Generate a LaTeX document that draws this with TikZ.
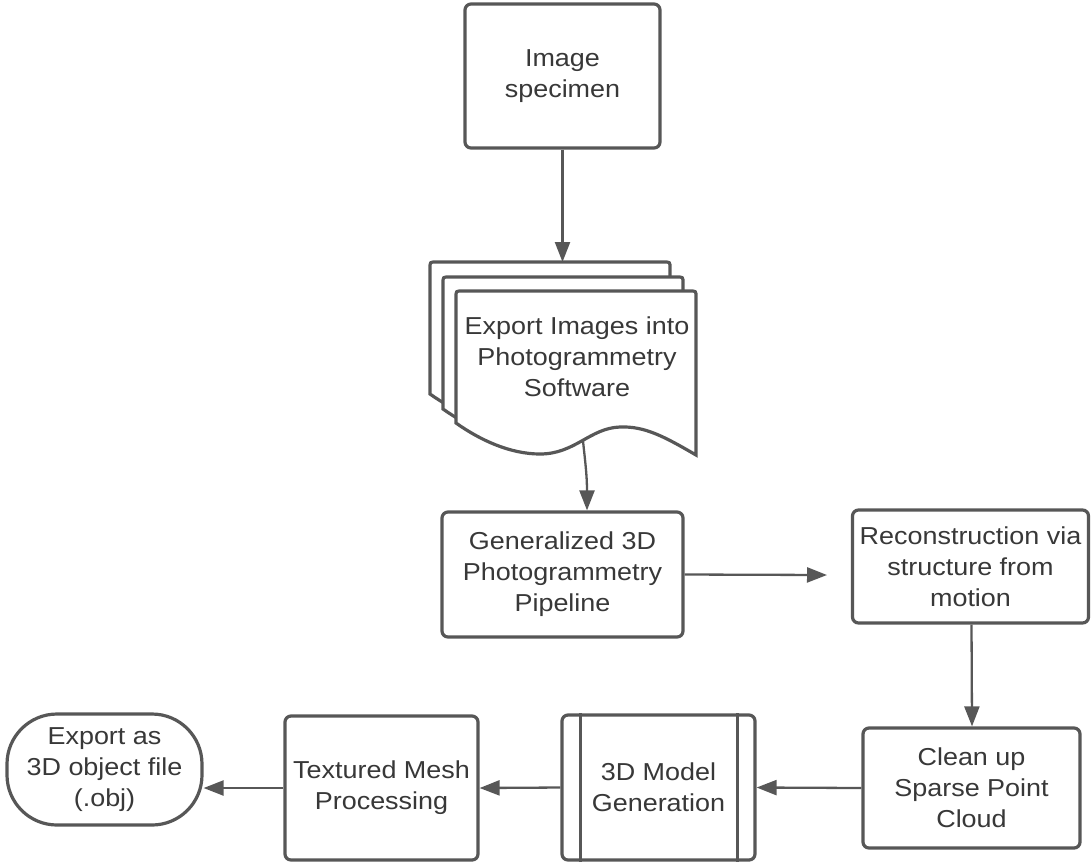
\documentclass[tikz,border=0pt]{standalone}
\usepackage{fontspec}
\setmainfont{Liberation Sans}[FakeStretch=1.1]
\usetikzlibrary{arrows.meta}
\definecolor{edge}{HTML}{575757}
\definecolor{ink}{HTML}{383838}
\tikzset{
  box/.style={draw=edge, line width=3.2pt, rounded corners=6pt, fill=white,
    text=ink, align=center, inner sep=0pt,
    font=\fontsize{24.5}{31}\selectfont},
  page/.style={draw=edge, line width=3.2pt, fill=white},
  conn/.style={draw=edge, line width=2.3pt, -{Triangle[length=20pt,width=15pt]}},
  label/.style={text=ink, align=center, font=\fontsize{24.5}{31}\selectfont}
}
\begin{document}
\begin{tikzpicture}[x=1pt,y=-1pt]
\useasboundingbox (0,0) rectangle (1091,863);
% boxes
\node[box, minimum width=195pt, minimum height=144pt] (spec) at (562.5,76) {Image\\specimen};
\node[box, minimum width=241pt, minimum height=125pt] (gen) at (562.5,574.5) {Generalized 3D\\Photogrammetry\\Pipeline};
\node[box, minimum width=236pt, minimum height=113pt] (recon) at (970.5,566.5) {Reconstruction via\\structure from\\motion};
\node[box, minimum width=217pt, minimum height=120pt] (clean) at (971.5,788) {Clean up\\Sparse Point\\Cloud};
\node[box, minimum width=193pt, minimum height=145pt] (model) at (658.5,787.5) {3D Model\\Generation};
\draw[edge, line width=3.2pt] ([xshift=20pt]model.north west) -- ([xshift=20pt]model.south west);
\draw[edge, line width=3.2pt] ([xshift=-19pt]model.north east) -- ([xshift=-19pt]model.south east);
\node[box, minimum width=193pt, minimum height=144pt] (tex) at (381.5,788) {Textured Mesh\\Processing};
\node[box, rounded corners=50pt, minimum width=195pt, minimum height=111pt] (export) at (104.5,769.5) {Export as\\3D object file\\(.obj)};
% multi-document
\foreach \dx/\dy in {-26/-29,-13/-14,0/0}{
  \path[page, shift={(\dx,\dy)}] (456,423) -- (456,297) .. controls (456,291) .. (462,291)
    -- (690,291) .. controls (696,291) .. (696,297) -- (696,455)
    .. controls (665,437) and (645,426) .. (620,427)
    .. controls (590,428) and (575,454) .. (540,454)
    .. controls (510,454) and (480,440) .. (456,423) -- cycle;
}
\node[label] (docs) at (577,357) {Export Images into\\Photogrammetry\\Software};
\coordinate (docin) at (562.5,262);
\coordinate (docb) at (583,441);
\coordinate (gap) at (827,575);
% connectors
\draw[conn] (spec.south) -- (docin);
\draw[conn] (docb) .. controls (585,460) and (587,475) .. ([xshift=24.5pt]gen.north);
\draw[conn] (gen.east) -- (gap);
\draw[conn] ([xshift=1pt]recon.south) -- ([xshift=0.5pt]clean.north);
\draw[conn] (clean.west) -- (model.east);
\draw[conn] (model.west) -- (tex.east);
\draw[conn] (tex.west) -- (export.east |- tex.west);
\end{tikzpicture}
\end{document}
